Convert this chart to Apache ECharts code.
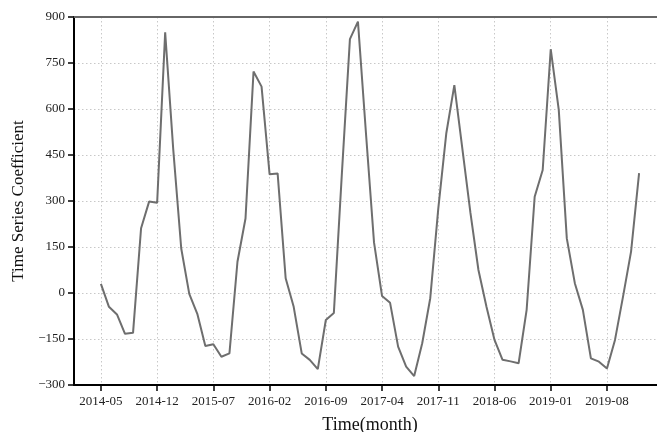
<!DOCTYPE html>
<html>
<head>
<meta charset="utf-8">
<script src="https://cdn.jsdelivr.net/npm/echarts@6/dist/echarts.min.js"></script>
<style>html,body{margin:0;padding:0;background:#fff}#c{width:657px;height:432px}</style>
</head>
<body>
<div id="c"></div>
<script>
const months = ['2014-05','2014-06','2014-07','2014-08','2014-09','2014-10','2014-11','2014-12',
'2015-01','2015-02','2015-03','2015-04','2015-05','2015-06','2015-07','2015-08','2015-09','2015-10','2015-11','2015-12',
'2016-01','2016-02','2016-03','2016-04','2016-05','2016-06','2016-07','2016-08','2016-09','2016-10','2016-11','2016-12',
'2017-01','2017-02','2017-03','2017-04','2017-05','2017-06','2017-07','2017-08','2017-09','2017-10','2017-11','2017-12',
'2018-01','2018-02','2018-03','2018-04','2018-05','2018-06','2018-07','2018-08','2018-09','2018-10','2018-11','2018-12',
'2019-01','2019-02','2019-03','2019-04','2019-05','2019-06','2019-07','2019-08','2019-09','2019-10','2019-11','2019-12'];
const coefficients = [30,-45,-70,-133,-130,211,298,294,
850,470,145,-3,-68,-173,-167,-208,-197,102,243,722,
673,387,390,48,-45,-197,-218,-248,-88,-65,390,828,
885,520,165,-10,-32,-175,-240,-271,-164,-17,275,521,
678,470,262,75,-45,-153,-218,-223,-229,-55,314,401,
795,597,178,32,-55,-213,-224,-246,-153,-12,135,391];
const xTickLabels = ['2014-05','2014-12','2015-07','2016-02','2016-09','2017-04','2017-11','2018-06','2019-01','2019-08'];
const yTicks = [-300,-150,0,150,300,450,600,750,900];

const xTickIdx = xTickLabels.map(l => months.indexOf(l));
const seriesData = coefficients.map((v, i) => [i, v]);
const FONT = 'Liberation Serif';
const pad = (months.length - 1) * 0.05;

const chart = echarts.init(document.getElementById('c'), null, {renderer: 'canvas'});
chart.setOption({
  animation: false,
  backgroundColor: '#fff',
  grid: {left: 74, top: 17, bottom: 47, right: -9, outerBoundsMode: 'none', containLabel: false},
  xAxis: [{
    type: 'value',
    min: -pad, max: months.length - 1 + pad,
    name: 'Time(month)', nameLocation: 'middle', nameGap: 31,
    nameTextStyle: {fontFamily: FONT, fontSize: 18, color: '#111'},
    axisLine: {show: true, onZero: false, lineStyle: {color: '#000', width: 2}},
    axisTick: {show: true, length: 6, lineStyle: {color: '#000', width: 1.5}, customValues: xTickIdx},
    axisLabel: {fontFamily: FONT, fontSize: 13, color: '#222', margin: 10, customValues: xTickIdx,
      formatter: v => months[Math.round(v)] || ''},
    splitLine: {show: true, lineStyle: {color: '#c8c8c8', type: [1.5, 2.5], width: 1}}
  }, {
    type: 'value', position: 'top',
    min: -pad, max: months.length - 1 + pad,
    axisLine: {show: true, onZero: false, lineStyle: {color: '#666', width: 2}},
    axisTick: {show: false}, axisLabel: {show: false}, splitLine: {show: false}
  }],
  yAxis: {
    type: 'value', min: yTicks[0], max: yTicks[yTicks.length - 1], interval: 150,
    name: 'Time Series Coefficient', nameLocation: 'middle', nameGap: 43,
    nameTextStyle: {fontFamily: FONT, fontSize: 17, color: '#111'},
    axisLine: {show: true, onZero: false, lineStyle: {color: '#000', width: 2}},
    axisTick: {show: true, length: 6, lineStyle: {color: '#000', width: 1.5}},
    axisLabel: {fontFamily: FONT, fontSize: 13, color: '#222', margin: 9,
      formatter: v => String(v).replace('-', '\u2212')},
    splitLine: {show: true, lineStyle: {color: '#c8c8c8', type: [1.5, 2.5], width: 1}}
  },
  series: [{
    type: 'line', data: seriesData, xAxisIndex: 0,
    showSymbol: false, symbol: 'none',
    lineStyle: {color: '#6e6e6e', width: 2}
  }]
});
</script>
</body>
</html>
